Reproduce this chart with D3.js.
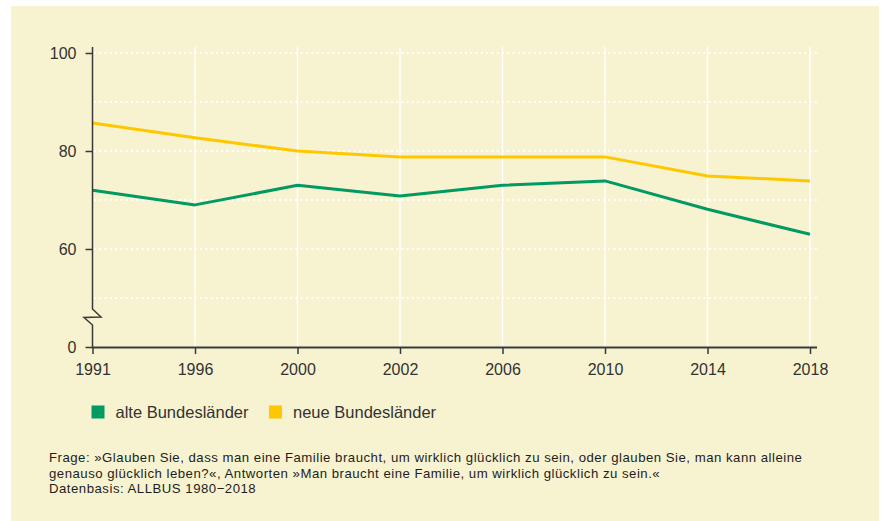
<!DOCTYPE html>
<html><head><meta charset="utf-8">
<script src="https://cdn.jsdelivr.net/npm/d3@7"></script>
<style>
html,body{margin:0;padding:0;background:#fff;}
svg{display:block;font-family:"Liberation Sans",Arial,Helvetica,sans-serif;}
</style></head>
<body>
<svg id="c" width="883" height="521"></svg>
<script>
const years = ["1991","1996","2000","2002","2006","2010","2014","2018"];
const alteValues = [72, 69, 73, 70.8, 73, 73.9, 68.1, 63];
const neueValues = [85.7, 82.7, 80, 78.8, 78.8, 78.8, 74.9, 73.9];
const seriesNames = ["alte Bundesländer", "neue Bundesländer"];
const seriesColors = ["#009a62", "#fec800"];
const yTickValues = [40, 60, 80, 100];
const yTickLabels = ["0", "60", "80", "100"];
const yGridValues = [50, 60, 70, 80, 90, 100];
const footLines = [
  "Frage: »Glauben Sie, dass man eine Familie braucht, um wirklich glücklich zu sein, oder glauben Sie, man kann alleine",
  "genauso glücklich leben?«, Antworten »Man braucht eine Familie, um wirklich glücklich zu sein.«",
  "Datenbasis: ALLBUS 1980\u22122018"
];

const svg = d3.select("#c");
svg.append("rect").attr("x",11).attr("y",6).attr("width",868).attr("height",515).attr("fill","#f7f2cf");

const x = d3.scalePoint().domain(years).range([92.5, 810]);
const y = d3.scaleLinear().domain([40, 100]).range([347, 53]);
const axisCol = "#3a3a3a";

// vertical grid
svg.append("g").selectAll("line").data(years.slice(1)).join("line")
  .attr("x1", d=>x(d)).attr("x2", d=>x(d)).attr("y1", 47).attr("y2", 347)
  .attr("stroke","#fff").attr("stroke-width",1.5);
// horizontal dotted grid
svg.append("g").selectAll("line").data(yGridValues).join("line")
  .attr("x1", 94).attr("x2", 817).attr("y1", d=>y(d)).attr("y2", d=>y(d))
  .attr("stroke","#fff").attr("stroke-width",2).attr("stroke-dasharray","2,3.3");

// lines
const line = d3.line().x((d,i)=>x(years[i])).y(d=>y(d));
[alteValues, neueValues].forEach((vals, k) => {
  svg.append("path").datum(vals).attr("d", line).attr("fill","none")
    .attr("stroke", seriesColors[k]).attr("stroke-width",3).attr("stroke-linejoin","round");
});

// y axis
const yAxis = d3.axisLeft(y).tickValues(yTickValues).tickSize(7).tickPadding(9)
  .tickFormat(d => yTickLabels[yTickValues.indexOf(d)]);
const gy = svg.append("g").attr("transform","translate(92.5,0)").call(yAxis);
gy.select(".domain").remove();
gy.selectAll(".tick line").attr("stroke",axisCol).attr("stroke-width",1.5);
gy.selectAll(".tick text").attr("fill","#333").attr("font-size",16).attr("font-family","Liberation Sans, Arial, sans-serif");
// axis line with break
svg.append("path")
  .attr("d", `M92.5,47 V309 L101,317 L84,317.5 L92.5,325 V347`)
  .attr("fill","none").attr("stroke",axisCol).attr("stroke-width",1.5);

// x axis
const xAxis = d3.axisBottom(x).tickSize(7).tickPadding(10).tickSizeOuter(0);
const gx = svg.append("g").attr("transform","translate(0,347)").call(xAxis);
gx.select(".domain").attr("d","M91.7,0.5H817").attr("stroke",axisCol).attr("stroke-width",2);
gx.selectAll(".tick line").attr("stroke",axisCol).attr("stroke-width",1.5);
gx.selectAll(".tick text").attr("fill","#333").attr("font-size",16).attr("font-family","Liberation Sans, Arial, sans-serif");

// legend
const legX = [91.5, 269];
seriesNames.forEach((n,k) => {
  svg.append("rect").attr("x",legX[k]).attr("y",405.5).attr("width",13).attr("height",13).attr("fill",seriesColors[k]);
  svg.append("text").attr("x",legX[k]+24).attr("y",417.5).attr("font-size",16.5).attr("fill","#333").text(n);
});

// footnote
svg.append("g").selectAll("text").data(footLines).join("text")
  .attr("x",49).attr("y",(d,i)=>462+i*15.6).attr("font-size",13.2)
  .attr("letter-spacing","0.5px").attr("fill","#1e1e1e").text(d=>d);
</script>
</body></html>
